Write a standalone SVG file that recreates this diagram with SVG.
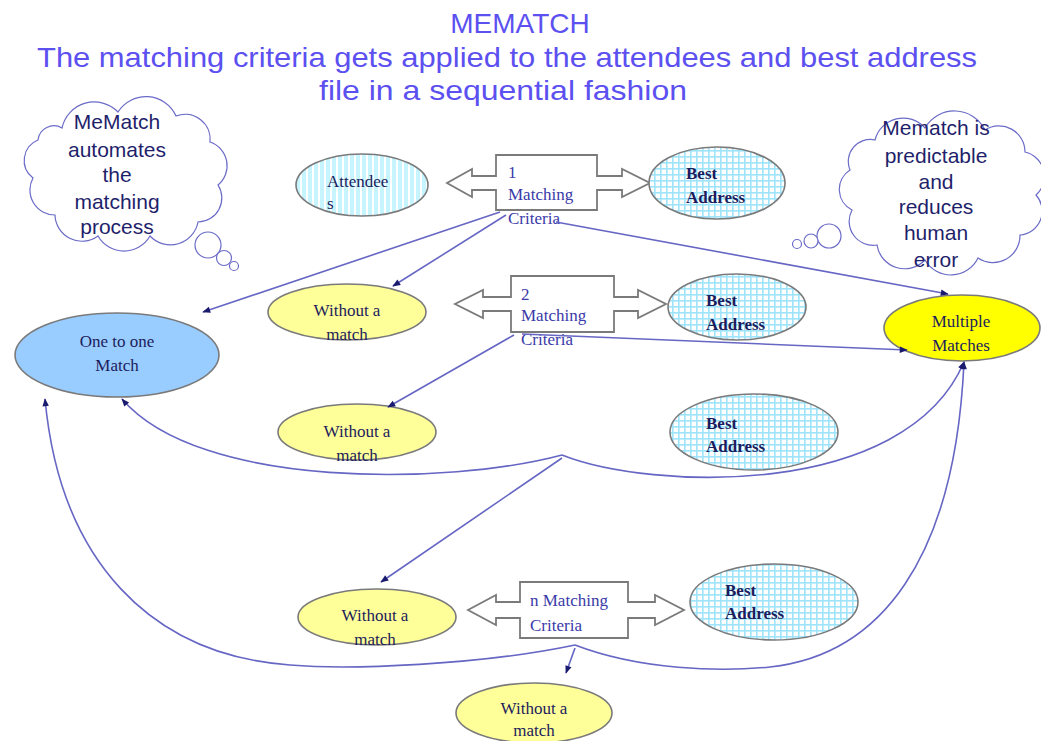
<svg xmlns="http://www.w3.org/2000/svg" width="1041" height="741" viewBox="0 0 1041 741">
<style>
.title{font-family:"Liberation Sans",Arial,sans-serif;font-size:28px;fill:#5c50f0;text-anchor:middle}
.cloudtxt{font-family:"Liberation Sans",Arial,sans-serif;font-size:21px;fill:#1f1f6b;text-anchor:middle}
.cloud{fill:#ffffff;stroke:#6b6bc8;stroke-width:1.2}
.ell{stroke:#7a7a7a;stroke-width:1.6}
.yel{fill:#ffff99}
.ser{font-family:"Liberation Serif","Times New Roman",serif;font-size:17px;fill:#1c1c5c}
.mid{text-anchor:middle}
.bold{font-weight:bold}
.box{fill:#ffffff;stroke:#7a7a7a;stroke-width:1.8}
.boxtxt{font-family:"Liberation Serif","Times New Roman",serif;font-size:17px;fill:#3a3aa8}
.con{fill:none;stroke:#6666c4;stroke-width:1.6}
</style>
<defs>
<pattern id="stripes" width="6" height="6" patternUnits="userSpaceOnUse">
<rect width="6" height="6" fill="#c6f4ff"/>
<rect x="0" width="2" height="6" fill="#ffffff"/>
</pattern>
<pattern id="grid" width="6" height="6" patternUnits="userSpaceOnUse">
<rect width="6" height="6" fill="#ffffff"/>
<rect width="6" height="1.6" fill="#9fe4fb"/>
<rect width="1.6" height="6" fill="#9fe4fb"/>
</pattern>
<marker id="ah" viewBox="0 0 10 10" refX="9" refY="5" markerWidth="9" markerHeight="8" orient="auto" markerUnits="userSpaceOnUse">
<path d="M0,1 L10,5 L0,9 Z" fill="#1a1a6e"/>
</marker>
</defs>
<rect width="1041" height="741" fill="#ffffff"/>

<g id="title">
<text class="title" x="520" y="33">MEMATCH</text>
<text class="title" x="507" y="67" textLength="940" lengthAdjust="spacingAndGlyphs">The matching criteria gets applied to the attendees and best address</text>
<text class="title" x="503" y="100" textLength="368" lengthAdjust="spacingAndGlyphs">file in a sequential fashion</text>
</g>

<g id="cloud-left">
<path class="cloud" d="M62,128 A33,33 0 0 1 118,112 A33,33 0 0 1 176,116 A25,25 0 0 1 210,142 A25,25 0 0 1 218,185 A24,24 0 0 1 198,222 A28,28 0 0 1 150,236 A30,30 0 0 1 98,236 A27,27 0 0 1 55,215 A25,25 0 0 1 33,178 A22,22 0 0 1 38,140 A16,16 0 0 1 62,128 Z"/>
<circle class="cloud" cx="208" cy="245" r="13"/>
<circle class="cloud" cx="224" cy="258" r="7.5"/>
<circle class="cloud" cx="234" cy="266" r="4.5"/>
<text class="cloudtxt" x="117" y="129">MeMatch</text>
<text class="cloudtxt" x="117" y="157">automates</text>
<text class="cloudtxt" x="117" y="182">the</text>
<text class="cloudtxt" x="117" y="209">matching</text>
<text class="cloudtxt" x="117" y="234">process</text>
</g>

<g id="cloud-right">
<path class="cloud" d="M875,140 A29,29 0 0 1 925,128 A34,34 0 0 1 985,130 A26,26 0 0 1 1025,152 A25,25 0 0 1 1036,195 A24,24 0 0 1 1020,235 A27,27 0 0 1 978,258 A30,30 0 0 1 925,260 A28,28 0 0 1 877,245 A24,24 0 0 1 852,210 A23,23 0 0 1 850,170 A22,22 0 0 1 875,140 Z"/>
<circle class="cloud" cx="829" cy="236" r="12"/>
<circle class="cloud" cx="811" cy="241" r="7"/>
<circle class="cloud" cx="797" cy="244" r="4.5"/>
<text class="cloudtxt" x="936" y="135">Mematch is</text>
<text class="cloudtxt" x="936" y="163">predictable</text>
<text class="cloudtxt" x="936" y="189">and</text>
<text class="cloudtxt" x="936" y="214">reduces</text>
<text class="cloudtxt" x="936" y="240">human</text>
<text class="cloudtxt" x="936" y="267">error</text>
</g>

<g id="attendees">
<ellipse class="ell" cx="362" cy="185" rx="66" ry="31" fill="url(#stripes)"/>
<text class="ser" x="327" y="187">Attendee</text>
<text class="ser" x="327" y="209">s</text>
</g>

<g id="criteria-1">
<polygon class="box" points="496,155 597,155 597,176 622,176 622,169 650,183 622,197 622,190 597,190 597,210 496,210 496,190 472,190 472,197 447,183 472,169 472,176 496,176"/>
<text class="boxtxt" x="508" y="178">1</text>
<text class="boxtxt" x="508" y="200">Matching</text>
<text class="boxtxt" x="508" y="224">Criteria</text>
</g>

<g id="best-address-1">
<ellipse class="ell" cx="717" cy="183" rx="68" ry="36" fill="url(#grid)"/>
<text class="ser bold" x="686" y="179">Best</text>
<text class="ser bold" x="686" y="203">Address</text>
</g>

<g id="without-match-1">
<ellipse class="ell yel" cx="347" cy="312" rx="79" ry="28"/>
<text class="ser mid" x="347" y="316">Without a</text>
<text class="ser mid" x="347" y="340">match</text>
</g>

<g id="criteria-2">
<polygon class="box" points="511,276 614,276 614,297 638,297 638,290 666,304 638,318 638,311 614,311 614,332 511,332 511,311 483,311 483,318 455,304 483,290 483,297 511,297"/>
<text class="boxtxt" x="521" y="300">2</text>
<text class="boxtxt" x="521" y="321">Matching</text>
<text class="boxtxt" x="521" y="345">Criteria</text>
</g>

<g id="best-address-2">
<ellipse class="ell" cx="737" cy="307" rx="69" ry="33" fill="url(#grid)"/>
<text class="ser bold" x="706" y="306">Best</text>
<text class="ser bold" x="706" y="330">Address</text>
</g>

<g id="multiple-matches">
<ellipse class="ell" cx="962" cy="328" rx="78" ry="33" fill="#ffff00"/>
<text class="ser mid" x="961" y="327">Multiple</text>
<text class="ser mid" x="961" y="351">Matches</text>
</g>

<g id="one-to-one">
<ellipse class="ell" cx="117" cy="355" rx="102" ry="42" fill="#99ccff"/>
<text class="ser mid" x="117" y="347" fill="#2a2a8a">One to one</text>
<text class="ser mid" x="117" y="371" fill="#2a2a8a">Match</text>
</g>

<g id="without-match-2">
<ellipse class="ell yel" cx="357" cy="432" rx="79" ry="28"/>
<text class="ser mid" x="357" y="437">Without a</text>
<text class="ser mid" x="357" y="461">match</text>
</g>

<g id="best-address-3">
<ellipse class="ell" cx="754" cy="432" rx="84" ry="38" fill="url(#grid)"/>
<text class="ser bold" x="706" y="429">Best</text>
<text class="ser bold" x="706" y="452">Address</text>
</g>

<g id="without-match-3">
<ellipse class="ell yel" cx="377" cy="617" rx="79" ry="28"/>
<text class="ser mid" x="375" y="621">Without a</text>
<text class="ser mid" x="375" y="645">match</text>
</g>

<g id="criteria-n">
<polygon class="box" points="520,582 628,582 628,602 655,602 655,595 684,610 655,625 655,618 628,618 628,638 520,638 520,618 496,618 496,625 468,610 496,595 496,602 520,602"/>
<text class="boxtxt" x="530" y="606">n Matching</text>
<text class="boxtxt" x="530" y="631">Criteria</text>
</g>

<g id="best-address-4">
<ellipse class="ell" cx="774" cy="602" rx="84" ry="38" fill="url(#grid)"/>
<text class="ser bold" x="725" y="596">Best</text>
<text class="ser bold" x="725" y="619">Address</text>
</g>

<g id="without-match-4">
<ellipse class="ell yel" cx="534" cy="713" rx="78" ry="30"/>
<text class="ser mid" x="534" y="714">Without a</text>
<text class="ser mid" x="534" y="736">match</text>
</g>

<g id="connectors">
<line class="con" x1="500" y1="212" x2="203" y2="312" marker-end="url(#ah)"/>
<line class="con" x1="506" y1="215" x2="393" y2="286" marker-end="url(#ah)"/>
<line class="con" x1="556" y1="222" x2="948" y2="294" marker-end="url(#ah)"/>
<line class="con" x1="514" y1="335" x2="388" y2="407" marker-end="url(#ah)"/>
<line class="con" x1="522" y1="334" x2="907" y2="350" marker-end="url(#ah)"/>
<path class="con" d="M562,455 C450,485 200,490 122,399" marker-end="url(#ah)"/>
<path class="con" d="M562,455 C650,490 905,500 964,362" marker-end="url(#ah)"/>
<line class="con" x1="562" y1="458" x2="381" y2="582" marker-end="url(#ah)"/>
<path class="con" d="M575,645 C480,665 350,670 290,665 C150,655 60,560 45,399" marker-end="url(#ah)"/>
<path class="con" d="M575,645 C640,670 720,672 770,667 C880,655 955,560 964,362" marker-end="url(#ah)"/>
<line class="con" x1="575" y1="648" x2="566" y2="673" marker-end="url(#ah)"/>
</g>
</svg>
